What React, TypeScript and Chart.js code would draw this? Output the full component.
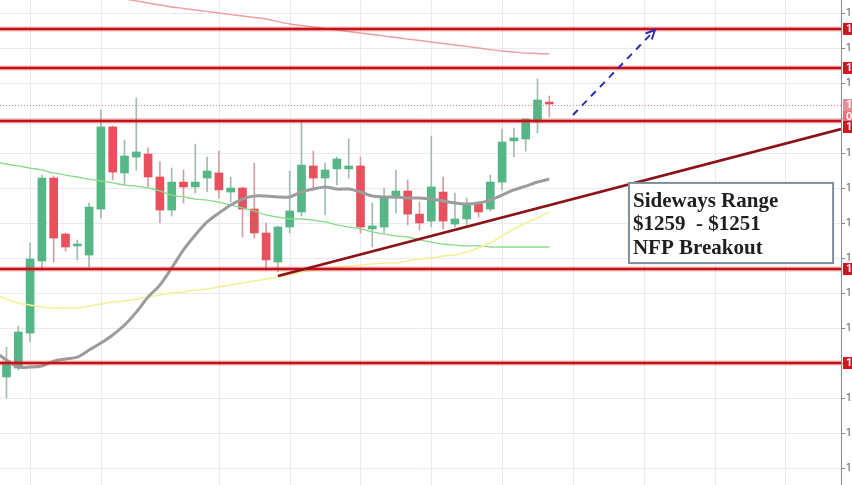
import React, { useEffect, useRef } from 'react';
import { Chart, registerables } from 'chart.js';

Chart.register(...registerables);

// ---- Data ----
const opens = [1245.20, 1245.71, 1247.71, 1251.83, 1256.57, 1253.37, 1252.69, 1252.17, 1254.80, 1259.49, 1256.86, 1257.77, 1257.94, 1256.63, 1254.74, 1256.34, 1256.06, 1256.57, 1256.86, 1255.77, 1256.00, 1254.80, 1253.43, 1251.77, 1253.77, 1254.63, 1257.26, 1256.57, 1257.09, 1257.09, 1257.26, 1253.66, 1253.77, 1255.43, 1255.83, 1254.51, 1254.11, 1255.77, 1253.94, 1254.23, 1255.09, 1254.80, 1256.34, 1258.69, 1258.80, 1259.77, 1260.91];
const highs = [1246.91, 1248.11, 1252.86, 1256.74, 1256.69, 1253.43, 1253.03, 1255.14, 1260.46, 1259.54, 1258.74, 1261.14, 1258.29, 1257.49, 1257.14, 1257.03, 1258.51, 1257.77, 1258.11, 1256.63, 1256.06, 1257.43, 1254.00, 1253.83, 1256.97, 1259.77, 1258.11, 1257.43, 1257.77, 1258.80, 1257.77, 1255.14, 1256.00, 1257.03, 1256.46, 1255.20, 1258.97, 1256.63, 1255.71, 1255.43, 1255.20, 1256.74, 1259.37, 1259.43, 1259.94, 1262.23, 1261.26];
const lows = [1244.00, 1245.60, 1247.20, 1251.31, 1251.77, 1252.40, 1251.89, 1251.49, 1254.29, 1256.46, 1256.17, 1257.03, 1256.06, 1254.00, 1254.40, 1255.14, 1255.71, 1255.77, 1255.43, 1255.20, 1253.20, 1253.14, 1251.31, 1251.20, 1253.43, 1254.40, 1256.00, 1254.46, 1256.17, 1256.57, 1253.43, 1252.63, 1253.43, 1254.57, 1253.89, 1253.60, 1253.77, 1253.66, 1253.77, 1253.89, 1254.34, 1254.69, 1255.89, 1257.77, 1258.11, 1259.14, 1260.06];
const closes = [1246.06, 1247.77, 1251.94, 1256.57, 1253.14, 1252.63, 1252.80, 1254.91, 1259.49, 1256.91, 1257.83, 1258.06, 1256.63, 1254.74, 1256.34, 1256.06, 1256.34, 1256.97, 1255.89, 1256.00, 1254.80, 1253.43, 1251.89, 1253.77, 1254.69, 1257.31, 1256.57, 1257.03, 1257.66, 1257.26, 1253.77, 1253.83, 1255.49, 1255.83, 1254.51, 1254.00, 1256.06, 1254.11, 1254.23, 1255.09, 1254.63, 1256.34, 1258.63, 1258.86, 1259.94, 1261.03, 1260.80];

// moving averages, first value belongs to the bar before the first candle
const maStart = -1;
const maGrey = [1246.63, 1246.17, 1245.77, 1245.77, 1245.83, 1246.11, 1246.23, 1246.34, 1246.74, 1247.14, 1247.60, 1248.17, 1248.91, 1249.77, 1250.46, 1251.43, 1252.46, 1253.31, 1254.06, 1254.57, 1255.03, 1255.37, 1255.54, 1255.54, 1255.49, 1255.49, 1255.77, 1255.94, 1256.06, 1255.94, 1255.94, 1255.77, 1255.54, 1255.49, 1255.49, 1255.43, 1255.43, 1255.37, 1255.26, 1255.14, 1255.09, 1255.14, 1255.31, 1255.60, 1255.89, 1256.11, 1256.34, 1256.51];
const maGreen = [1257.49, 1257.37, 1257.26, 1257.14, 1257.03, 1256.86, 1256.74, 1256.63, 1256.51, 1256.40, 1256.29, 1256.17, 1256.11, 1256.00, 1255.83, 1255.60, 1255.49, 1255.37, 1255.31, 1255.20, 1255.03, 1254.86, 1254.69, 1254.46, 1254.34, 1254.23, 1254.23, 1254.17, 1254.06, 1253.89, 1253.77, 1253.66, 1253.49, 1253.37, 1253.26, 1253.20, 1253.03, 1252.91, 1252.80, 1252.74, 1252.69, 1252.69, 1252.63, 1252.63, 1252.63, 1252.63, 1252.63, 1252.63];
const maYellow = [1249.94, 1249.66, 1249.43, 1249.31, 1249.20, 1249.14, 1249.14, 1249.14, 1249.26, 1249.37, 1249.49, 1249.54, 1249.66, 1249.77, 1249.89, 1250.00, 1250.06, 1250.17, 1250.23, 1250.34, 1250.46, 1250.57, 1250.69, 1250.80, 1250.91, 1251.03, 1251.20, 1251.31, 1251.37, 1251.49, 1251.54, 1251.60, 1251.66, 1251.71, 1251.71, 1251.83, 1251.94, 1252.00, 1252.11, 1252.17, 1252.34, 1252.57, 1252.86, 1253.26, 1253.66, 1254.00, 1254.29, 1254.63];
const maPinkStart = 9;
const maPink = [1266.91, 1266.80, 1266.69, 1266.57, 1266.46, 1266.34, 1266.26, 1266.17, 1266.09, 1266.00, 1265.91, 1265.83, 1265.74, 1265.66, 1265.51, 1265.37, 1265.29, 1265.20, 1265.11, 1265.03, 1264.94, 1264.86, 1264.77, 1264.69, 1264.60, 1264.51, 1264.43, 1264.34, 1264.26, 1264.17, 1264.09, 1264.00, 1263.91, 1263.83, 1263.77, 1263.71, 1263.69, 1263.66];

// horizontal support / resistance levels
const levels = [1265.09, 1262.86, 1259.83, 1251.37, 1246.00];
const lastPrice = 1260.74;
// trend line (bar index, price)
const trendX = [23, 70.72];
const trendY = [1250.97, 1259.37];
// projected breakout arrow
const arrowX = [48.0, 54.95];
const arrowY = [1260.17, 1265.03];
// annotation
const noteLines = ['Sideways Range', '$1259  - $1251', 'NFP Breakout'];
const noteX = [52.75, 70.05];
const noteY = [1256.29, 1251.71];

// axis settings
const xMin = -0.55;
const xMax = 70.72;
const yMin = 1239.03;
const yMax = 1266.743;
const yStep = 2;
const vGridIdx = [2, 8, 18, 24, 30, 36, 42, 48, 54, 60, 66];

const UP = '#55b786';
const DOWN = '#e9505e';
const UP_WICK = '#a3bcae';
const DOWN_WICK = '#d99ca3';
const GRID = '#e8ecf0';

const idx = opens.map((_, i) => i);

const vGrid = {
  id: 'vGrid',
  beforeDatasetsDraw(chart: any) {
    const { ctx, chartArea: a, scales } = chart;
    ctx.save();
    ctx.strokeStyle = GRID;
    ctx.lineWidth = 1;
    vGridIdx.forEach((v) => {
      const px = Math.round(scales.x.getPixelForValue(v)) + 0.5;
      ctx.beginPath();
      ctx.moveTo(px, a.top);
      ctx.lineTo(px, a.bottom);
      ctx.stroke();
    });
    ctx.restore();
  },
};

const overlay = {
  id: 'overlay',
  afterDatasetsDraw(chart: any) {
    const { ctx, chartArea: a, scales } = chart;
    const x = scales.x;
    const y = scales.y;
    ctx.save();
    ctx.beginPath();
    ctx.rect(a.left, a.top, a.right - a.left, a.bottom - a.top);
    ctx.clip();

    // last price dotted line
    ctx.strokeStyle = '#e07a86';
    ctx.lineWidth = 1;
    ctx.setLineDash([1, 2]);
    const lp = Math.round(y.getPixelForValue(lastPrice)) + 0.5;
    ctx.beginPath();
    ctx.moveTo(a.left, lp);
    ctx.lineTo(a.right, lp);
    ctx.stroke();
    ctx.setLineDash([]);

    // levels
    levels.forEach((lv) => {
      const py = y.getPixelForValue(lv);
      ctx.strokeStyle = 'rgba(225,70,70,0.35)';
      ctx.lineWidth = 5;
      ctx.beginPath();
      ctx.moveTo(a.left, py);
      ctx.lineTo(a.right, py);
      ctx.stroke();
      ctx.strokeStyle = '#c4121b';
      ctx.lineWidth = 2.5;
      ctx.beginPath();
      ctx.moveTo(a.left, py);
      ctx.lineTo(a.right, py);
      ctx.stroke();
    });

    // trend line
    ctx.strokeStyle = '#8c1118';
    ctx.lineWidth = 2.6;
    ctx.beginPath();
    ctx.moveTo(x.getPixelForValue(trendX[0]), y.getPixelForValue(trendY[0]));
    ctx.lineTo(x.getPixelForValue(trendX[1]), y.getPixelForValue(trendY[1]));
    ctx.stroke();

    // arrow
    const ax0 = x.getPixelForValue(arrowX[0]);
    const ay0 = y.getPixelForValue(arrowY[0]);
    const ax1 = x.getPixelForValue(arrowX[1]);
    const ay1 = y.getPixelForValue(arrowY[1]);
    ctx.strokeStyle = '#2b2fb0';
    ctx.lineWidth = 2;
    ctx.setLineDash([7, 6]);
    ctx.beginPath();
    ctx.moveTo(ax0, ay0);
    ctx.lineTo(ax1, ay1);
    ctx.stroke();
    ctx.setLineDash([]);
    const ang = Math.atan2(ay1 - ay0, ax1 - ax0);
    const hl = 10;
    ctx.beginPath();
    ctx.moveTo(ax1 - hl * Math.cos(ang - 0.45), ay1 - hl * Math.sin(ang - 0.45));
    ctx.lineTo(ax1, ay1);
    ctx.lineTo(ax1 - hl * Math.cos(ang + 0.45), ay1 - hl * Math.sin(ang + 0.45));
    ctx.stroke();
    ctx.restore();

    // price labels on the right axis
    ctx.save();
    ctx.font = 'bold 11px Roboto, sans-serif';
    ctx.textBaseline = 'middle';
    const label = (py: number, bg: string, txt: string) => {
      ctx.fillStyle = bg;
      ctx.fillRect(a.right + 2, py - 6, 60, 12);
      ctx.fillStyle = '#ffffff';
      ctx.fillText(txt, a.right + 5, py + 0.5);
    };
    label(y.getPixelForValue(lastPrice), '#e58f98', lastPrice.toFixed(2));
    label(y.getPixelForValue(lastPrice) + 12, '#e7707b', '01:22:10');
    levels.forEach((lv, i) => {
      let py = y.getPixelForValue(lv);
      if (i === 2) py += 6;
      label(py, '#d3141d', lv.toFixed(2));
    });
    ctx.restore();

    // annotation box
    const bx0 = x.getPixelForValue(noteX[0]);
    const bx1 = x.getPixelForValue(noteX[1]);
    const by0 = y.getPixelForValue(noteY[0]);
    const by1 = y.getPixelForValue(noteY[1]);
    ctx.save();
    ctx.fillStyle = '#ffffff';
    ctx.fillRect(bx0, by0, bx1 - bx0, by1 - by0);
    ctx.strokeStyle = '#7f8f9c';
    ctx.lineWidth = 2;
    ctx.strokeRect(bx0, by0, bx1 - bx0, by1 - by0);
    ctx.fillStyle = '#1f1f1f';
    ctx.font = 'bold 21px "Liberation Serif", "Times New Roman", serif';
    ctx.textBaseline = 'alphabetic';
    noteLines.forEach((t, i) => {
      ctx.fillText(t, bx0 + 4, by0 + 24 + i * 23.5);
    });
    ctx.restore();
  },
};

export default function App() {
  const ref = useRef<HTMLCanvasElement | null>(null);

  useEffect(() => {
    document.body.style.margin = '0';
    const canvas = ref.current;
    if (!canvas) return;
    const ma = (arr: number[], start: number) => arr.map((v, i) => ({ x: i + start, y: v }));
    const chart = new Chart(canvas, {
      type: 'bar',
      data: {
        datasets: [
          {
            type: 'bar',
            data: idx.map((i) => ({ x: i, y: [lows[i], highs[i]] })) as any,
            backgroundColor: idx.map((i) => (closes[i] >= opens[i] ? UP_WICK : DOWN_WICK)),
            barThickness: 1,
            grouped: false,
            order: 3,
          } as any,
          {
            type: 'bar',
            data: idx.map((i) => ({ x: i, y: [opens[i], closes[i]] })) as any,
            backgroundColor: idx.map((i) => (closes[i] >= opens[i] ? UP : DOWN)),
            barThickness: 8,
            minBarLength: 1,
            grouped: false,
            order: 2,
          } as any,
          {
            type: 'line',
            data: ma(maPink, maPinkStart),
            borderColor: '#ee9ea4',
            borderWidth: 1.4,
            pointRadius: 0,
            tension: 0.3,
            order: 1,
          } as any,
          {
            type: 'line',
            data: ma(maYellow, maStart),
            borderColor: '#f1f19a',
            borderWidth: 1.6,
            pointRadius: 0,
            tension: 0.3,
            order: 1,
          } as any,
          {
            type: 'line',
            data: ma(maGreen, maStart),
            borderColor: '#86dc86',
            borderWidth: 1.3,
            pointRadius: 0,
            tension: 0.3,
            order: 1,
          } as any,
          {
            type: 'line',
            data: ma(maGrey, maStart),
            borderColor: '#9c9c9c',
            borderWidth: 3,
            pointRadius: 0,
            tension: 0.3,
            order: 0,
          } as any,
        ],
      },
      options: {
        animation: false,
        responsive: false,
        devicePixelRatio: 1,
        layout: { padding: 0 },
        plugins: { legend: { display: false }, tooltip: { enabled: false } },
        scales: {
          x: {
            type: 'linear',
            min: xMin,
            max: xMax,
            offset: false,
            ticks: { display: false },
            grid: { display: false, drawTicks: false },
            border: { display: false },
            afterFit: (s: any) => {
              s.height = 0;
              s.paddingLeft = 0;
              s.paddingRight = 0;
            },
          },
          y: {
            type: 'linear',
            position: 'right',
            min: yMin,
            max: yMax,
            ticks: {
              stepSize: yStep,
              includeBounds: false,
              color: '#555',
              padding: 1,
              font: { size: 10, family: 'Roboto' },
              callback: (v: any) => Number(v).toFixed(2),
            },
            grid: { color: GRID, tickColor: '#8a8a8a', tickLength: 4 },
            border: { display: true, color: '#8a8a8a' },
            afterFit: (s: any) => {
              s.width = 59;
              s.paddingTop = 0;
              s.paddingBottom = 0;
            },
          },
        },
      } as any,
      plugins: [vGrid, overlay],
    });
    return () => chart.destroy();
  }, []);

  return (
    <div style={{ position: 'fixed', left: 0, top: 0, width: 852, height: 485, overflow: 'hidden', background: '#fff' }}>
      <canvas ref={ref} width={900} height={485} style={{ width: 900, height: 485, display: 'block' }} />
    </div>
  );
}
